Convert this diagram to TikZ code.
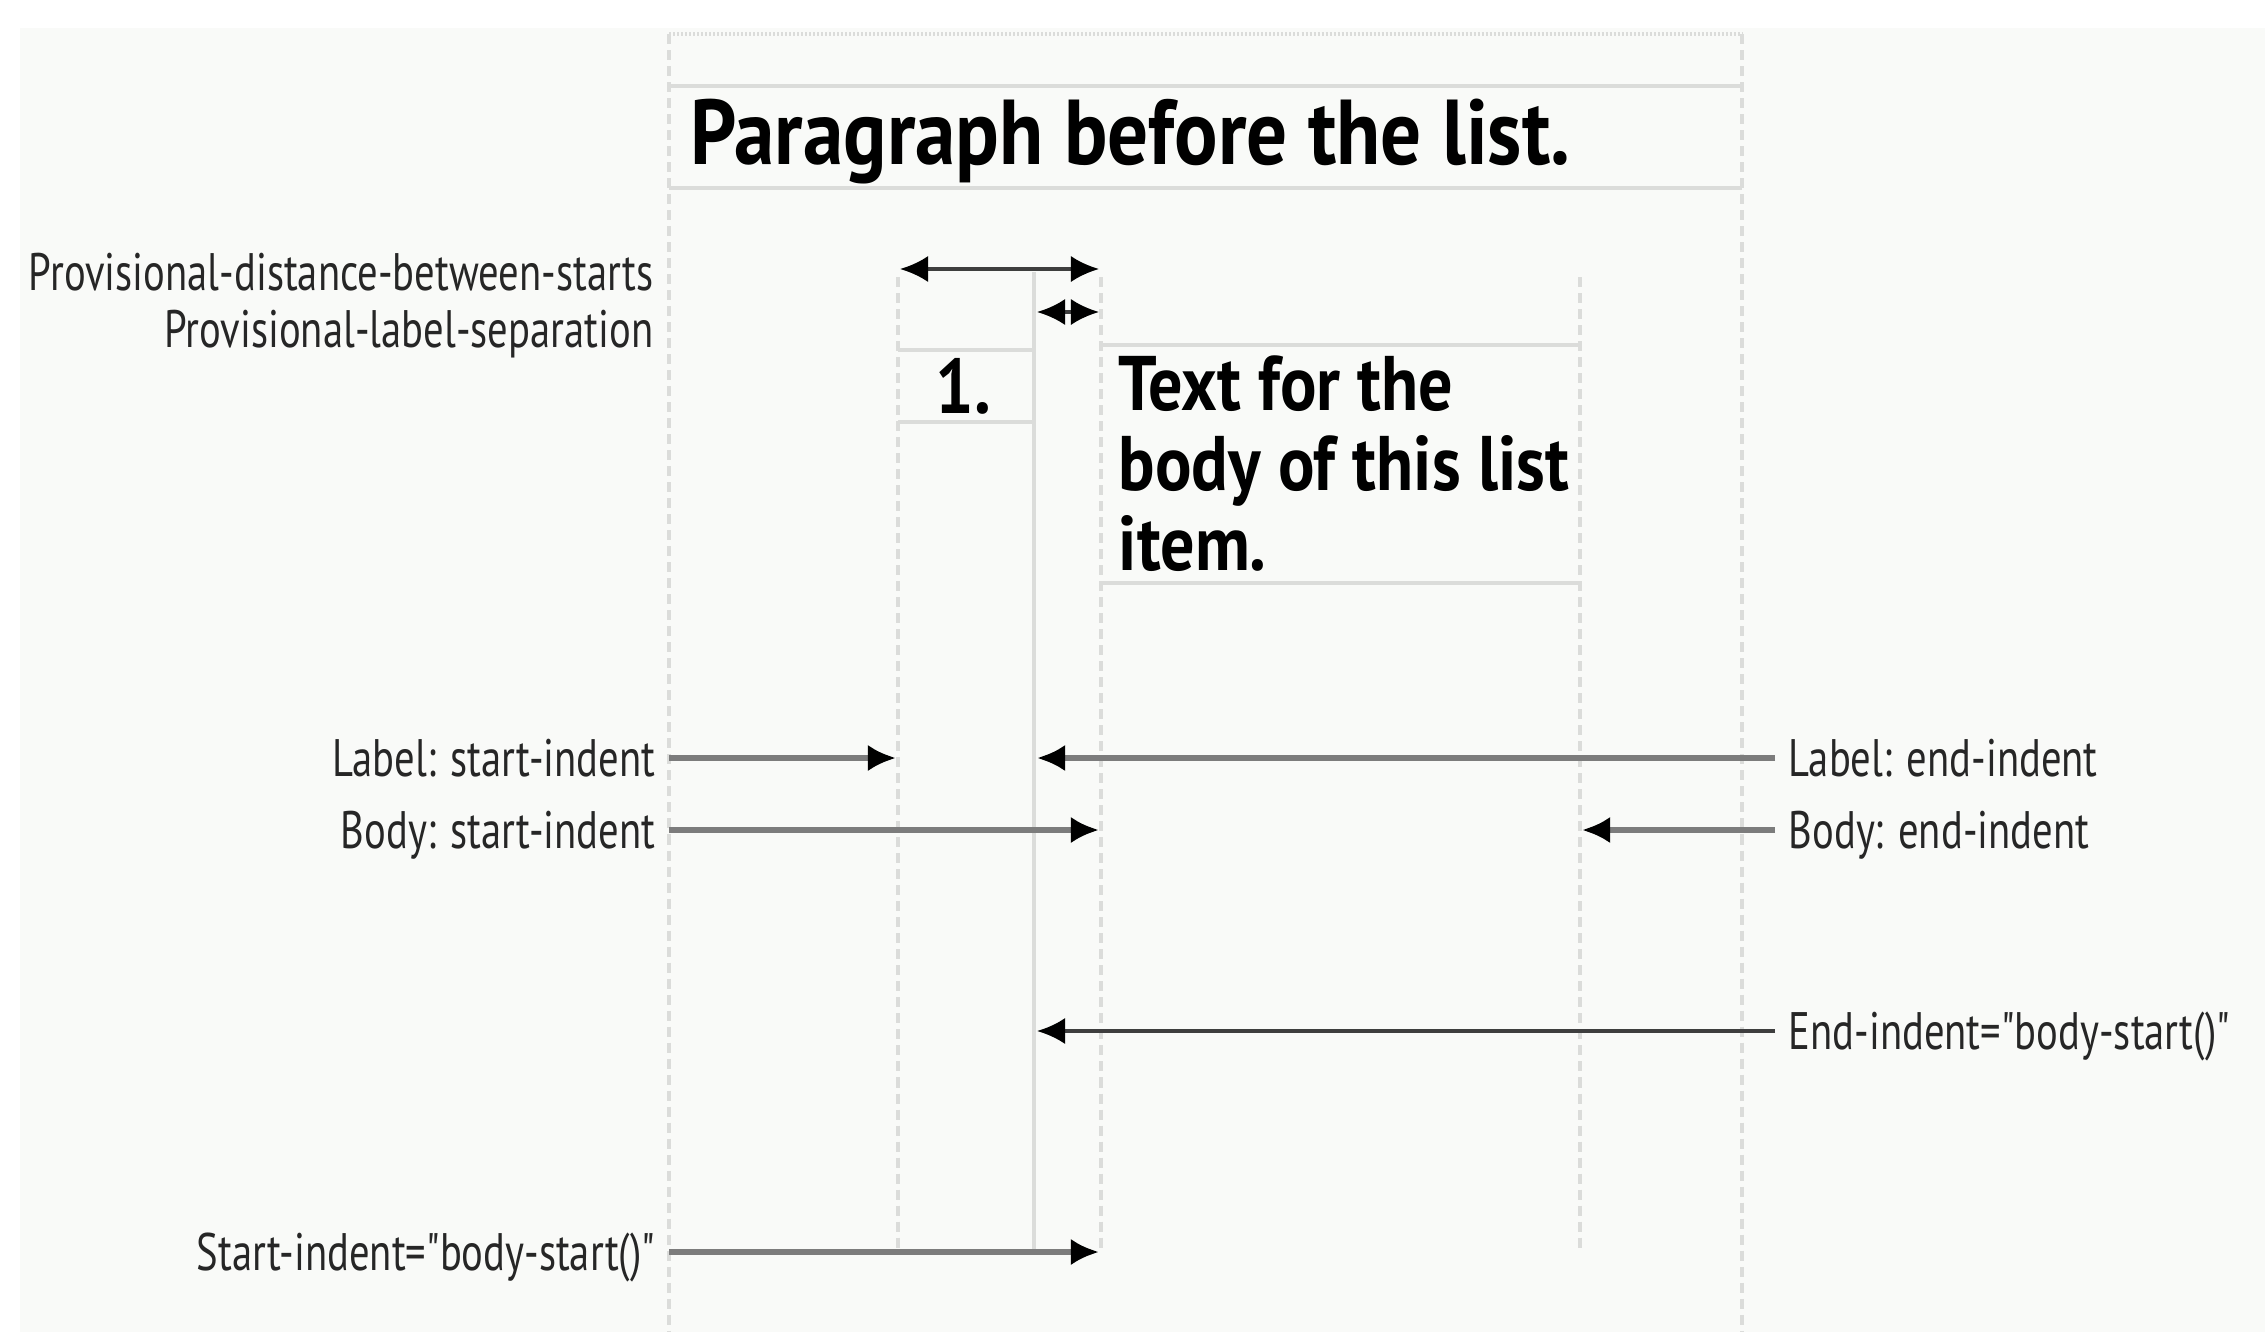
\documentclass[tikz,border=0pt]{standalone}
\usepackage{fontspec}
\setmainfont{PT Sans}[FakeStretch=0.77, Ligatures=TeXOff]
\newfontfamily\boldcond{PT Sans Bold}[FakeStretch=0.88]
\usetikzlibrary{arrows.meta}
\definecolor{bgcol}{HTML}{F9FAF8}
\definecolor{rulegray}{HTML}{DBDCDA}
\definecolor{arrowgray}{HTML}{7C7C7C}
\definecolor{arrowdark}{HTML}{3E3E3E}

\begin{document}
\begin{tikzpicture}[x=0.01cm, y=-0.01cm, >={Latex[length=8pt,width=7pt]},
  guide/.style={rulegray, line width=0.9pt, dash pattern=on 0.1cm off 0.06cm},
  boxrule/.style={rulegray, line width=1.1pt},
  grayarrow/.style={arrowgray, line width=1.5pt, ->, >={Latex[length=8pt,width=7.5pt,black]}},
  darkarrow/.style={arrowdark, line width=1.1pt, >={Latex[length=8pt,width=7.5pt,black]}},
  lbl/.style={font=\fontsize{15}{15}\selectfont, text=black!85, text height=10.5pt, text depth=0pt, inner ysep=0pt, inner xsep=0.13cm},
  bodytext/.style={font=\fontsize{22}{22.7}\boldcond, inner sep=0pt}]
  \useasboundingbox (0,0) rectangle (2265,1332);
  \fill[white] (0,0) rectangle (2265,1332);
  \fill[bgcol] (20,28) rectangle (2265,1332);
  % Outer block area
  \draw[rulegray, line width=0.9pt, dash pattern=on 0.02cm off 0.02cm] (669,34) -- (1742,34);
  \draw[guide] (669,34) -- (669,1332);
  \draw[guide] (1742,34) -- (1742,1332);
  % Paragraph before the list
  \draw[boxrule] (669,86) -- (1742,86);
  \draw[boxrule] (669,188) -- (1742,188);
  \node[anchor=base west, inner sep=0pt, font=\fontsize{26.2}{26.2}\boldcond] (para) at (690,164) {Paragraph before the list.};
  % Label and body columns
  \draw[guide] (898,277) -- (898,1250);
  \draw[rulegray, line width=0.9pt] (1034,272) -- (1034,1250);
  \draw[guide] (1101,277) -- (1101,1250);
  \draw[guide] (1580,277) -- (1580,1252);
  \draw[boxrule] (898,350) -- (1034,350);
  \draw[boxrule] (898,422) -- (1034,422);
  \draw[boxrule] (1101,345) -- (1580,345);
  \draw[boxrule] (1101,583) -- (1580,583);
  \node[bodytext, anchor=base west] (num) at (935,413) {1.};
  \node[bodytext, anchor=base west, align=left] (body) at (1118,570) {Text for the\\body of this list\\item.};
  % Provisional distances
  \node[lbl, anchor=base east, inner xsep=0pt] (pdist) at (654,290) {Provisional-distance-between-starts};
  \node[lbl, anchor=base east, inner xsep=0pt] (psep) at (654,347) {Provisional-label-separation};
  \coordinate (pdL) at (900,269);
  \coordinate (pdR) at (1099,269);
  \coordinate (psL) at (1037,312);
  \coordinate (psR) at (1099,312);
  \draw[darkarrow, <->] (pdL) -- (pdR);
  \draw[darkarrow, <->] (psL) -- (psR);
  % Indent arrows
  \coordinate (lsTip) at (896,758);
  \coordinate (leTip) at (1037,758);
  \coordinate (bsTip) at (1099,830);
  \coordinate (beTip) at (1582,830);
  \coordinate (eiTip) at (1037,1031);
  \coordinate (siTip) at (1099,1252);
  \node[lbl, anchor=east] (lstart) at (669,758) {Label: start-indent};
  \node[lbl, anchor=east] (bstart) at (669,830) {Body: start-indent};
  \node[lbl, anchor=east] (sindent) at (669,1252) {Start-indent="body-start()"};
  \node[lbl, anchor=west] (lend) at (1775,758) {Label: end-indent};
  \node[lbl, anchor=west] (bend) at (1775,830) {Body: end-indent};
  \node[lbl, anchor=west] (eindent) at (1775,1031) {End-indent="body-start()"};
  \draw[grayarrow] (lstart) -- (lsTip);
  \draw[grayarrow] (bstart) -- (bsTip);
  \draw[grayarrow] (sindent) -- (siTip);
  \draw[grayarrow] (lend) -- (leTip);
  \draw[grayarrow] (bend) -- (beTip);
  \draw[darkarrow, ->] (eindent) -- (eiTip);
\end{tikzpicture}
\end{document}
